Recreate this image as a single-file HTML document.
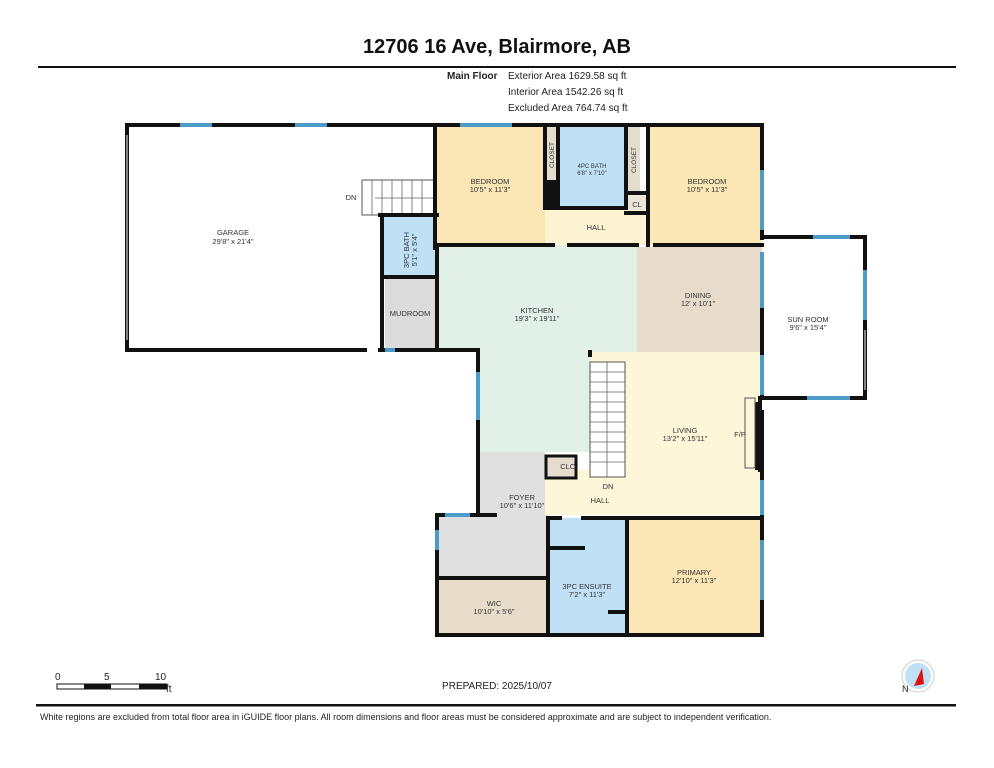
<!DOCTYPE html>
<html><head><meta charset="utf-8"><style>
html,body{margin:0;padding:0;background:#fff}
svg{display:block}
text{font-family:"Liberation Sans",sans-serif}
</style></head><body>
<svg width="994" height="768" viewBox="0 0 994 768" xmlns="http://www.w3.org/2000/svg">
<text x="497" y="53" font-size="20" font-weight="bold" text-anchor="middle" fill="#111">12706 16 Ave, Blairmore, AB</text>
<rect x="38" y="66" width="918" height="2" fill="#111"/>
<g font-size="10" fill="#222">
<text x="447" y="79" font-weight="bold">Main Floor</text>
<text x="508" y="79">Exterior Area 1629.58 sq ft</text>
<text x="508" y="95">Interior Area 1542.26 sq ft</text>
<text x="508" y="111">Excluded Area 764.74 sq ft</text>
</g>
<!-- room fills -->
<rect x="437" y="127" width="108" height="118" fill="#fbe7b5"/>
<rect x="545" y="127" width="13" height="53" fill="#e4dccd"/>
<rect x="558" y="127" width="68" height="81" fill="#bfe0f5"/>
<rect x="626" y="127" width="14" height="66" fill="#e4dccd"/>
<rect x="626" y="193" width="22" height="20" fill="#ece6d8"/>
<rect x="545" y="210" width="103" height="35" fill="#fcf3d3"/>
<rect x="648" y="127" width="114" height="118" fill="#fbe7b5"/>
<rect x="437" y="245" width="200" height="107" fill="#e1f1e8"/>
<rect x="478" y="350" width="112" height="102" fill="#e1f1e8"/>
<rect x="637" y="247" width="125" height="105" fill="#e7dccb"/>
<rect x="590" y="352" width="172" height="163" fill="#fdf6d8"/>
<rect x="545" y="470" width="217" height="45" fill="#fdf6d8"/>
<rect x="380" y="215" width="57" height="62" fill="#bfe0f5"/>
<rect x="385" y="277" width="52" height="71" fill="#dcdcdc"/>
<rect x="478" y="452" width="67" height="66" fill="#e0e0e0"/>
<rect x="437" y="515" width="111" height="63" fill="#e0e0e0"/>
<rect x="437" y="578" width="111" height="57" fill="#e8dccb"/>
<rect x="548" y="518" width="79" height="117" fill="#bfe0f5"/>
<rect x="627" y="518" width="135" height="117" fill="#fbe7b5"/>
<rect x="546" y="456" width="30" height="22" fill="#e4dccd" stroke="#111" stroke-width="3"/>
<!-- stairs -->
<g stroke="#555" stroke-width="1" fill="#fff">
<rect x="590" y="362" width="35" height="115"/>
<rect x="362" y="180" width="73" height="35"/>
</g>
<g stroke="#666" stroke-width="0.8">
<path d="M590 372H625M590 382H625M590 392H625M590 402H625M590 412H625M590 422H625M590 432H625M590 442H625M590 452H625M590 462H625M607 362V477"/>
<path d="M372 180V215M382 180V215M392 180V215M402 180V215M412 180V215M422 180V215M375 198H433"/>
</g>
<!-- walls -->
<g stroke="#111" stroke-width="4" fill="none" stroke-linecap="square">
<path d="M127 125H762V238M762 262V398M762 412V633M437 635H762"/>
<path d="M127 125V350H365M380 350H478V515"/>
<path d="M435 125V248M437 245H553M569 245H637M655 245H762"/>
<path d="M380 215H437M382 215V350M385 277H437M437 245V350"/>
<path d="M545 127V208M558 127V208M626 127V208M558 208H626M648 127V245M626 193H648M626 213H648"/>
<path d="M437 515V635M437 515H495M437 578H548M548 518V635M548 518H560M583 518H762M627 518V635M548 548H583M610 612H627"/>
<path d="M762 237H865V398H762"/>
<path d="M590 352V355M760 398V470"/>
</g>
<rect x="545" y="180" width="13" height="30" fill="#111"/>
<rect x="755" y="402" width="7" height="68" fill="#111"/>
<rect x="745" y="398" width="10" height="70" fill="none" stroke="#555"/>
<!-- windows -->
<g stroke="#4d9cc8" stroke-width="4">
<path d="M180 125H212M295 125H327M460 125H512"/>
<path d="M762 170V230M762 252V308M762 355V395M762 480V515M762 540V600"/>
<path d="M478 372V420M437 530V550M445 515H470M385 350H395"/>
<path d="M813 237H850M865 270V320M807 398H850"/>
</g>
<g stroke="#aaa" stroke-width="1.5"><path d="M127 135V340M865 330V390"/></g>
<!-- labels -->
<g font-size="7.5" fill="#333" text-anchor="middle">
<text x="233" y="235">GARAGE</text><text x="233" y="244">29'8" x 21'4"</text>
<text x="490" y="184">BEDROOM</text><text x="490" y="192">10'5" x 11'3"</text>
<text x="707" y="184">BEDROOM</text><text x="707" y="192">10'5" x 11'3"</text>
<text x="592" y="168" font-size="6">4PC BATH</text><text x="592" y="175" font-size="6">6'8" x 7'10"</text>
<text x="596" y="230">HALL</text>
<text x="637" y="207">CL</text>
<text x="537" y="313">KITCHEN</text><text x="537" y="321">19'3" x 19'11"</text>
<text x="698" y="298">DINING</text><text x="698" y="306">12' x 10'1"</text>
<text x="808" y="322">SUN ROOM</text><text x="808" y="330">9'6" x 15'4"</text>
<text x="685" y="433">LIVING</text><text x="685" y="441">13'2" x 15'11"</text>
<text x="740" y="437">F/P</text>
<text x="568" y="469">CLO</text>
<text x="608" y="489">DN</text>
<text x="600" y="503">HALL</text>
<text x="522" y="500">FOYER</text><text x="522" y="508">10'6" x 11'10"</text>
<text x="494" y="606">WIC</text><text x="494" y="614">10'10" x 5'6"</text>
<text x="587" y="589">3PC ENSUITE</text><text x="587" y="597">7'2" x 11'3"</text>
<text x="694" y="575">PRIMARY</text><text x="694" y="583">12'10" x 11'3"</text>
<text x="410" y="316">MUDROOM</text>
<text x="351" y="200">DN</text>
<text transform="translate(409 250) rotate(-90)">3PC BATH</text>
<text transform="translate(417 250) rotate(-90)">5'1" x 5'4"</text>
<text transform="translate(554 155) rotate(-90)" font-size="6.5">CLOSET</text>
<text transform="translate(636 160) rotate(-90)" font-size="6.5">CLOSET</text>
</g>
<!-- scale bar / footer -->
<g font-size="10" fill="#222">
<text x="55" y="680">0</text><text x="104" y="680">5</text><text x="155" y="680">10</text>
<text x="166" y="692">ft</text>
<text x="497" y="689" text-anchor="middle">PREPARED: 2025/10/07</text>
</g>
<rect x="57" y="684" width="110" height="5" fill="#fff" stroke="#111"/>
<rect x="84" y="684" width="27" height="5" fill="#111"/>
<rect x="139" y="684" width="28" height="5" fill="#111"/>
<circle cx="918" cy="676" r="16" fill="#fff" stroke="#ccc"/>
<circle cx="918" cy="676" r="13" fill="#bfe0f5"/>
<polygon points="914,686 922,668 924,684" fill="#d11"/>
<text x="902" y="692" font-size="9" fill="#222">N</text>
<rect x="36" y="704" width="920" height="2.5" fill="#111"/>
<text x="40" y="720" font-size="9" fill="#222">White regions are excluded from total floor area in iGUIDE floor plans. All room dimensions and floor areas must be considered approximate and are subject to independent verification.</text>
</svg>
</body></html>
